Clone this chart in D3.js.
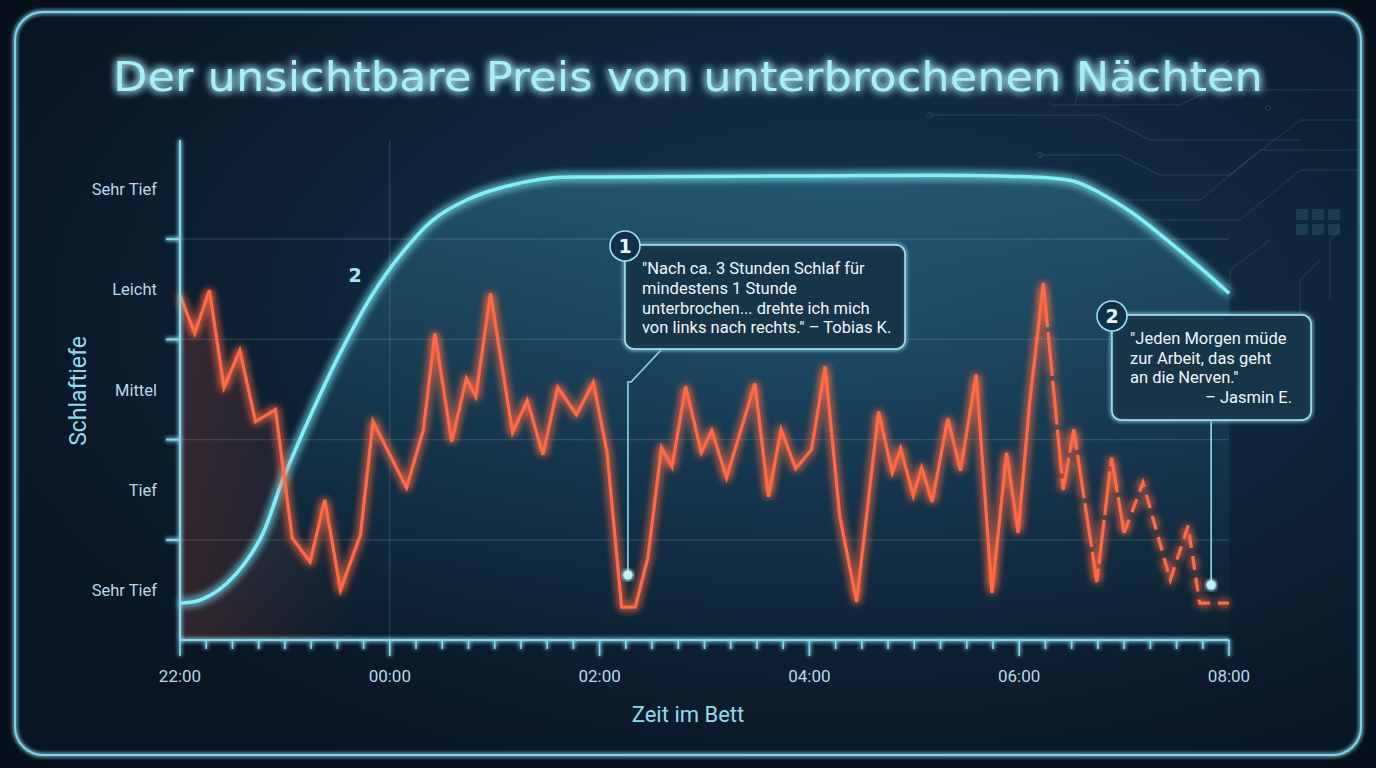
<!DOCTYPE html>
<html>
<head>
<meta charset="utf-8">
<script src="https://cdn.jsdelivr.net/npm/d3@7/dist/d3.min.js"></script>
<style>
html,body{margin:0;padding:0;background:#07111b;}
svg{display:block;}
</style>
</head>
<body>
<svg id="chart" width="1376" height="768"></svg>
<script>
// ---------------- DATA ----------------
const chartTitle = "Der unsichtbare Preis von unterbrochenen Nächten";
const yAxisTitle = "Schlaftiefe";
const xAxisTitle = "Zeit im Bett";
// depth levels (0 = bottom) and their labels
const depthLevels = [0, 1, 2, 3, 4];
const depthLabels = ["Sehr Tief", "Tief", "Mittel", "Leicht", "Sehr Tief"];
// time axis: hours after 22:00
const timeTicks = [0, 2, 4, 6, 8, 10];
const timeLabels = ["22:00", "00:00", "02:00", "04:00", "06:00", "08:00"];

// measured (interrupted) sleep — red line
const sleepHours = [0.00,0.14,0.28,0.42,0.57,0.72,0.91,1.07,1.24,1.38,1.53,1.72,1.84,2.16,2.32,2.43,2.59,2.73,2.82,2.96,
  3.17,3.31,3.46,3.60,3.78,3.94,4.07,4.21,4.34,4.46,4.59,4.69,4.82,4.97,5.07,5.21,5.48,5.61,5.73,5.87,
  6.02,6.15,6.29,6.45,6.66,6.79,6.87,6.99,7.07,7.17,7.32,7.44,7.59,7.74,7.88,7.99,8.10,8.23,8.42,8.52,
  8.74,8.88,9.00,9.18,9.44,9.61,9.72,10.00];
const sleepDepth = [2.94,2.56,2.99,2.02,2.39,1.68,1.80,0.52,0.28,0.90,0.00,0.55,1.68,1.02,1.60,2.56,1.48,2.11,1.93,2.96,
  1.57,1.89,1.35,2.02,1.75,2.07,1.38,-0.17,-0.17,0.32,1.42,1.23,2.03,1.37,1.59,1.12,2.06,0.93,1.60,1.21,
  1.40,2.23,0.73,-0.12,1.78,1.17,1.41,0.94,1.22,0.88,1.71,1.19,2.15,-0.03,1.37,0.57,1.87,3.06,1.00,1.60,
  0.08,1.32,0.57,1.07,0.10,0.64,-0.13,-0.13];
const solidUntilHour = 8.23;   // after this the record becomes dashed
const sparseFromHour = 9.00;

// ideal sleep curve — cyan line
const idealHours = [0.00,0.19,0.45,0.76,0.98,1.27,1.53,1.83,2.10,2.41,2.73,3.05,3.53,4.00,5.91,7.82,8.51,8.77,9.08,9.41,9.72,10.00];
const idealDepth = [-0.13,-0.10,0.07,0.50,1.10,1.80,2.37,2.94,3.34,3.69,3.89,4.01,4.11,4.12,4.13,4.13,4.08,3.96,3.76,3.49,3.22,2.96];

// annotations
const notes = [
  {num:"1", hour:4.27, depth:0.15,
   lines:["\"Nach ca. 3 Stunden Schlaf für","mindestens 1 Stunde","unterbrochen... drehte ich mich","von links nach rechts.\" – Tobias K."], author:null},
  {num:"2", hour:9.83, depth:0.05,
   lines:["\"Jeden Morgen müde","zur Arbeit, das geht","an die Nerven.\""], author:"– Jasmin E."}
];

// ---------------- DRAW ----------------
const W = 1376, H = 768;
const svg = d3.select("#chart");
const defs = svg.append("defs");

function glow(id, std){
  const f = defs.append("filter").attr("id", id).attr("x","-20%").attr("y","-20%").attr("width","140%").attr("height","140%");
  f.append("feGaussianBlur").attr("in","SourceGraphic").attr("stdDeviation", std).attr("result","b");
  const m = f.append("feMerge");
  m.append("feMergeNode").attr("in","b");
  m.append("feMergeNode").attr("in","b");
  m.append("feMergeNode").attr("in","SourceGraphic");
}
glow("glowS", 2);
glow("glowM", 4);
glow("glowL", 7);

const bgGrad = defs.append("radialGradient").attr("id","bgGrad").attr("cx","62%").attr("cy","40%").attr("r","70%");
bgGrad.append("stop").attr("offset","0%").attr("stop-color","#163550");
bgGrad.append("stop").attr("offset","55%").attr("stop-color","#0f2438");
bgGrad.append("stop").attr("offset","100%").attr("stop-color","#081421");

const idealGrad = defs.append("linearGradient").attr("id","idealGrad").attr("x1",0).attr("y1",0).attr("x2",0).attr("y2",1);
idealGrad.append("stop").attr("offset","0%").attr("stop-color","#4fb6d0").attr("stop-opacity",0.30);
idealGrad.append("stop").attr("offset","60%").attr("stop-color","#2f8aa8").attr("stop-opacity",0.14);
idealGrad.append("stop").attr("offset","100%").attr("stop-color","#1c5b78").attr("stop-opacity",0.05);

const redGrad = defs.append("linearGradient").attr("id","redGrad").attr("gradientUnits","userSpaceOnUse")
  .attr("x1",180).attr("y1",0).attr("x2",360).attr("y2",0);
redGrad.append("stop").attr("offset","0%").attr("stop-color","#ff5a3c").attr("stop-opacity",0.17);
redGrad.append("stop").attr("offset","100%").attr("stop-color","#ff5a3c").attr("stop-opacity",0);

// page background
svg.append("rect").attr("width",W).attr("height",H).attr("fill","#07111b");
svg.append("rect").attr("x",15).attr("y",12).attr("width",1346).attr("height",743).attr("rx",28)
  .attr("fill","url(#bgGrad)");
svg.append("rect").attr("x",15).attr("y",12).attr("width",1346).attr("height",743).attr("rx",28)
  .attr("fill","none").attr("stroke","#7fd3e6").attr("stroke-width",2).attr("filter","url(#glowS)");

// decorative circuit traces (top right)
const deco = svg.append("g").attr("stroke","#5aa9c4").attr("stroke-opacity",0.22).attr("fill","none").attr("stroke-width",1);
const traces = [
  [[930,115],[1100,115],[1150,140],[1300,140]],
  [[1040,155],[1120,155],[1160,175],[1230,175],[1300,120],[1360,120]],
  [[1100,200],[1200,200],[1260,150],[1360,150]],
  [[1150,220],[1240,220],[1300,170],[1360,170]],
  [[1270,240],[1230,270],[1230,345]],
  [[1320,260],[1300,280],[1300,350]],
  [[1340,230],[1330,240],[1330,300]],
  [[1050,105],[1180,105],[1210,90],[1360,90]],
  [[1075,106],[1080,80],[1200,80],[1230,60]]
];
traces.forEach(t => deco.append("path").attr("d", d3.line()(t)));
deco.selectAll("circle.n").data([[1040,155],[1230,345],[1300,350],[930,115],[1268,108]]).join("circle")
  .attr("cx",d=>d[0]).attr("cy",d=>d[1]).attr("r",2.5);
const sq = svg.append("g").attr("fill","#5aa9c4").attr("fill-opacity",0.18);
for(let i=0;i<3;i++) for(let j=0;j<2;j++)
  sq.append("rect").attr("x",1296+i*16).attr("y",209+j*15).attr("width",12).attr("height",11).attr("rx",1);

// scales
const x = d3.scaleLinear().domain([0,10]).range([180,1229]);
const y = d3.scaleLinear().domain([0,4]).range([590,189]);
const plotTop = 140, plotBottom = 640;

// title
svg.append("text").attr("x",113).attr("y",91).attr("textLength",1150).attr("lengthAdjust","spacingAndGlyphs")
  .attr("font-family","'DejaVu Sans', sans-serif").attr("font-size",41).attr("font-weight",500)
  .attr("fill","#a8eef6").attr("filter","url(#glowM)").text(chartTitle);

// grid
const grid = svg.append("g");
grid.selectAll("line.h").data([0.5,1.5,2.5,3.5]).join("line")
  .attr("x1",x(0)).attr("x2",x(10)).attr("y1",d=>y(d)).attr("y2",d=>y(d))
  .attr("stroke","#9fd0e0").attr("stroke-opacity",0.2).attr("stroke-width",1.2);
grid.append("line").attr("x1",x(2)).attr("x2",x(2)).attr("y1",plotTop).attr("y2",plotBottom)
  .attr("stroke","#9fd0e0").attr("stroke-opacity",0.2).attr("stroke-width",1.2);

// ideal area + curve
const idealData = idealHours.map((h,i)=>({h, v:idealDepth[i]}));
const idealCurve = d3.curveCatmullRom.alpha(0.5);
svg.append("path").datum(idealData)
  .attr("d", d3.area().x(d=>x(d.h)).y0(plotBottom).y1(d=>y(d.v)).curve(idealCurve))
  .attr("fill","url(#idealGrad)");

// red area tint
const sleepData = sleepHours.map((h,i)=>({h, v:sleepDepth[i]}));
svg.append("path").datum(sleepData)
  .attr("d", d3.area().x(d=>x(d.h)).y0(plotBottom).y1(d=>y(d.v)))
  .attr("fill","url(#redGrad)");

svg.append("path").datum(idealData)
  .attr("d", d3.line().x(d=>x(d.h)).y(d=>y(d.v)).curve(idealCurve))
  .attr("fill","none").attr("stroke","#7ff0f8").attr("stroke-width",3.5).attr("filter","url(#glowM)");

svg.append("text").attr("x",355).attr("y",282).attr("text-anchor","middle")
  .attr("font-family","'DejaVu Sans', sans-serif").attr("font-weight","bold").attr("font-size",19)
  .attr("fill","#a8e6f2").text("2");

// red line segments
const redLine = d3.line().x(d=>x(d.h)).y(d=>y(d.v));
const segA = sleepData.filter(d=>d.h<=solidUntilHour);
const segB = sleepData.filter(d=>d.h>=solidUntilHour && d.h<=sparseFromHour);
const segC = sleepData.filter(d=>d.h>=sparseFromHour);
const redG = svg.append("g").attr("fill","none").attr("stroke","#ff6a45").attr("stroke-width",3.2)
  .attr("stroke-linejoin","miter").attr("filter","url(#glowM)");
redG.append("path").datum(segA).attr("d",redLine);
redG.append("path").datum(segB).attr("d",redLine).attr("stroke-dasharray","44,5");
redG.append("path").datum(segC).attr("d",redLine).attr("stroke-dasharray","14,8");

// axes
const axG = svg.append("g").attr("stroke","#86d8ea").attr("filter","url(#glowS)");
axG.append("line").attr("x1",x(0)).attr("x2",x(0)).attr("y1",plotTop).attr("y2",plotBottom).attr("stroke-width",2);
axG.append("line").attr("x1",x(0)).attr("x2",x(10)).attr("y1",plotBottom).attr("y2",plotBottom).attr("stroke-width",2.2);
axG.selectAll("line.yt").data([0.5,1.5,2.5,3.5]).join("line")
  .attr("x1",x(0)-14).attr("x2",x(0)).attr("y1",d=>y(d)).attr("y2",d=>y(d)).attr("stroke-width",2);
const minorTicks = d3.range(0, 10.001, 0.25);
axG.selectAll("line.xt").data(minorTicks).join("line")
  .attr("x1",d=>x(d)).attr("x2",d=>x(d)).attr("y1",plotBottom)
  .attr("y2",d=> (Math.abs(d/2 - Math.round(d/2))<1e-6) ? plotBottom+16 : plotBottom+9)
  .attr("stroke-width",1.6);

// y labels
svg.append("g").selectAll("text").data(depthLevels).join("text")
  .attr("x",157).attr("y",d=>y(d)+6).attr("text-anchor","end")
  .attr("font-family","Roboto, sans-serif").attr("font-size",16.5).attr("fill","#b9d9e6")
  .text((d,i)=>depthLabels[i]);
// x labels
svg.append("g").selectAll("text").data(timeTicks).join("text")
  .attr("x",d=>x(d)).attr("y",682).attr("text-anchor","middle")
  .attr("font-family","Roboto, sans-serif").attr("font-size",17).attr("fill","#b9d9e6")
  .text((d,i)=>timeLabels[i]);

// axis titles
svg.append("text").attr("transform","translate(86,391) rotate(-90)").attr("text-anchor","middle")
  .attr("font-family","Roboto, sans-serif").attr("font-size",23).attr("fill","#8fdcec").text(yAxisTitle);
svg.append("text").attr("x",688).attr("y",722).attr("text-anchor","middle")
  .attr("font-family","Roboto, sans-serif").attr("font-size",22).attr("fill","#8fdcec").text(xAxisTitle);

// annotations
const boxes = [
  {x:625, y:245, w:280, h:104, tx:642, ty:274, lh:19.8, leader:[[662,349],[631,382]]},
  {x:1112, y:315, w:199, h:105, tx:1130, ty:344, lh:19.6, leader:[[1211,420]]}
];
notes.forEach((n,i)=>{
  const b = boxes[i];
  const g = svg.append("g");
  const px = x(n.hour), py = y(n.depth);
  const pts = b.leader.concat([[px, b.leader[b.leader.length-1][1]],[px,py]]);
  g.append("path").attr("d", d3.line()(pts)).attr("fill","none").attr("stroke","#8fd8ea").attr("stroke-width",1.6);
  g.append("circle").attr("cx",px).attr("cy",py).attr("r",4.5).attr("fill","#bff0fa").attr("filter","url(#glowS)");
  g.append("rect").attr("x",b.x).attr("y",b.y).attr("width",b.w).attr("height",b.h).attr("rx",9)
    .attr("fill","#1a3448").attr("fill-opacity",0.82).attr("stroke","#8fd8ea").attr("stroke-width",1.6)
    .attr("filter","url(#glowS)");
  g.append("rect").attr("x",b.x).attr("y",b.y).attr("width",b.w).attr("height",b.h).attr("rx",9)
    .attr("fill","#1a3448").attr("fill-opacity",0.6).attr("stroke","#9fe2f0").attr("stroke-width",1.4);
  g.append("circle").attr("cx",b.x).attr("cy",b.y+1).attr("r",15).attr("fill","#12304a")
    .attr("stroke","#9fe2f0").attr("stroke-width",1.6);
  g.append("text").attr("x",b.x).attr("y",b.y+8).attr("text-anchor","middle")
    .attr("font-family","'DejaVu Sans', sans-serif").attr("font-weight","bold").attr("font-size",19)
    .attr("fill","#e8f6fb").text(n.num);
  n.lines.forEach((l,k)=>{
    g.append("text").attr("x",b.tx).attr("y",b.ty+k*b.lh)
      .attr("font-family","Roboto, sans-serif").attr("font-size",16.5).attr("fill","#eef6fa").text(l);
  });
  if(n.author){
    g.append("text").attr("x",b.x+b.w-19).attr("y",b.ty+n.lines.length*b.lh).attr("text-anchor","end")
      .attr("font-family","Roboto, sans-serif").attr("font-size",16.5).attr("fill","#eef6fa").text(n.author);
  }
});
</script>
</body>
</html>
